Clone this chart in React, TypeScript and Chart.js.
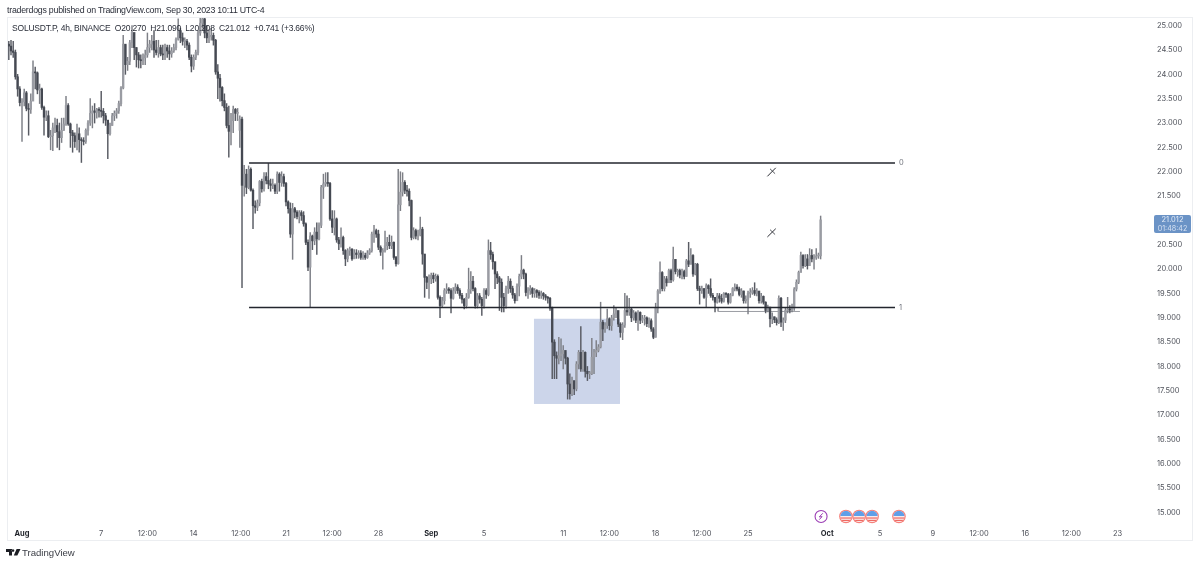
import React, { useEffect, useRef } from "react";
import { Chart, registerables } from "chart.js";

Chart.register(...registerables);

const firstIndex = -7;

const opens = [
  24.25,24.62,24.58,24.48,24.45,23.95,23.70,23.42,23.44,
  23.62,23.30,23.28,23.45,24.05,24.03,23.68,23.70,
  23.32,23.12,23.15,22.72,22.74,22.90,22.95,22.82,22.70,
  22.85,22.98,23.36,22.98,22.80,22.74,22.62,22.78,
  22.66,22.64,22.62,22.85,23.00,23.20,23.25,23.22,23.28,23.26,23.24,
  23.15,23.06,22.78,22.95,23.15,23.20,23.25,23.40,23.72,24.62,24.20,
  24.27,24.65,24.86,24.55,24.40,24.30,24.28,24.34,24.40,24.55,24.62,
  24.68,24.50,24.45,24.55,24.42,24.40,24.55,24.48,24.42,24.48,24.55,
  24.72,24.90,24.75,24.68,24.68,24.60,24.35,24.17,24.35,24.45,
  24.85,25.05,25.14,24.85,24.75,24.78,24.80,24.70,24.05,23.92,23.73,
  23.46,23.32,22.95,22.83,23.05,23.28,23.20,22.85,23.08,21.72,21.95,
  21.68,22.05,21.62,21.30,21.27,21.36,21.80,21.65,21.90,21.82,21.75,
  21.72,21.72,21.60,21.95,21.78,21.90,21.76,21.38,21.24,20.72,
  21.24,21.17,21.08,21.16,21.10,20.93,20.55,20.04,20.68,20.58,20.76,
  20.62,20.90,21.68,21.75,21.78,21.76,21.03,20.86,21.03,20.60,
  20.52,20.65,20.38,20.21,20.38,20.41,20.21,20.33,20.30,20.33,
  20.24,20.28,20.24,20.33,20.38,20.72,20.79,20.72,20.45,20.35,
  20.38,20.48,20.55,20.48,20.55,20.24,20.11,21.32,21.58,21.78,
  21.62,21.60,21.41,20.65,20.79,20.68,20.70,20.82,20.31,19.83,
  19.73,19.80,19.87,19.80,19.85,19.42,19.25,19.35,19.56,19.59,
  19.56,19.40,19.55,19.63,19.56,19.46,19.38,19.25,19.42,19.58,
  19.75,19.60,19.25,19.45,19.38,19.25,19.56,19.48,20.38,20.30,
  20.15,19.90,19.82,19.73,19.42,19.25,19.60,19.75,19.60,19.47,
  19.35,19.65,19.85,19.98,19.90,19.52,19.56,19.60,19.50,
  19.56,19.52,19.46,19.50,19.45,19.42,19.40,19.20,18.50,
  18.22,18.17,18.22,18.26,18.33,18.17,17.64,17.44,17.71,17.54,
  18.05,18.29,17.95,18.29,17.90,17.85,17.85,18.19,18.29,18.33,
  18.40,18.91,18.77,18.84,18.98,18.84,19.00,19.08,19.15,18.87,
  18.70,18.85,19.15,19.12,19.18,19.00,19.10,18.95,19.11,18.95,18.98,
  19.00,18.88,18.94,18.77,18.60,19.20,19.55,19.93,19.60,19.80,
  19.72,19.97,19.78,20.20,19.95,19.97,19.88,19.95,19.85,20.17,
  20.10,20.28,19.90,20.10,19.60,19.56,19.60,19.42,19.66,19.60,
  19.46,19.42,19.32,19.45,19.40,19.34,19.50,19.48,19.32,19.46,19.60,
  19.63,19.59,19.48,19.55,19.35,19.38,19.50,19.52,19.56,19.50,19.55,
  19.35,19.44,19.32,19.15,19.22,18.98,19.02,18.96,18.90,19.40,18.91,
  18.95,19.15,19.18,19.16,19.20,19.59,19.73,19.93,20.28,
  20.07,20.21,20.07,20.28,20.21,20.24,20.27,
  20.271,
];

const closes = [
  24.62,24.58,24.48,24.45,23.95,23.70,23.42,23.44,23.62,
  23.30,23.28,23.45,24.05,24.03,23.68,23.70,23.32,
  23.12,23.15,22.72,22.74,22.90,22.95,22.82,22.70,22.85,
  22.98,23.36,22.98,22.80,22.74,22.62,22.78,22.66,
  22.64,22.62,22.85,23.00,23.20,23.25,23.22,23.28,23.26,23.24,23.15,
  23.06,22.78,22.95,23.15,23.20,23.25,23.40,23.72,24.62,24.20,24.27,
  24.65,24.86,24.55,24.40,24.30,24.28,24.34,24.40,24.55,24.62,24.68,
  24.50,24.45,24.55,24.42,24.40,24.55,24.48,24.42,24.48,24.55,24.72,
  24.90,24.75,24.68,24.68,24.60,24.35,24.17,24.35,24.45,24.85,
  25.05,25.14,24.85,24.75,24.78,24.80,24.70,24.05,23.92,23.73,23.46,
  23.32,22.95,22.83,23.05,23.28,23.20,23.20,23.08,21.72,21.95,21.68,
  22.05,21.62,21.30,21.27,21.36,21.80,21.65,21.90,21.82,21.75,21.72,
  21.72,21.60,21.95,21.78,21.90,21.76,21.38,21.24,20.72,21.24,
  21.17,21.08,21.16,21.10,20.93,20.55,20.04,20.68,20.58,20.76,20.62,
  20.90,21.68,21.75,21.78,21.76,21.03,20.86,21.03,20.60,20.52,
  20.65,20.38,20.21,20.38,20.41,20.21,20.33,20.30,20.33,20.24,
  20.28,20.24,20.33,20.38,20.72,20.79,20.72,20.45,20.35,20.38,
  20.48,20.55,20.48,20.55,20.24,20.11,21.32,21.58,21.78,21.62,
  21.60,21.41,20.65,20.79,20.68,20.70,20.82,20.31,19.83,19.73,
  19.80,19.87,19.80,19.85,19.42,19.25,19.35,19.56,19.59,19.56,
  19.40,19.55,19.63,19.56,19.46,19.38,19.25,19.42,19.58,19.75,
  19.60,19.25,19.45,19.38,19.25,19.56,19.48,20.38,20.30,20.15,
  19.90,19.82,19.73,19.42,19.25,19.60,19.75,19.60,19.47,19.35,
  19.65,19.85,19.98,19.90,19.52,19.56,19.60,19.50,19.56,
  19.52,19.46,19.50,19.45,19.42,19.40,19.20,18.50,18.22,
  18.17,18.22,18.26,18.33,18.17,17.64,17.44,17.71,17.54,18.05,
  18.29,17.95,18.29,17.90,17.85,17.85,18.19,18.29,18.33,18.40,
  18.91,18.77,18.84,18.98,18.84,19.00,19.08,19.15,18.87,18.70,
  18.85,19.15,19.12,19.18,19.00,19.10,18.95,19.11,18.95,18.98,19.00,
  18.88,18.94,18.77,18.60,19.20,19.55,19.93,19.60,19.80,19.72,
  19.97,19.78,20.20,19.95,19.97,19.88,19.95,19.85,20.17,20.10,
  20.28,19.90,20.10,19.60,19.56,19.60,19.42,19.66,19.60,19.46,
  19.42,19.32,19.45,19.40,19.34,19.50,19.48,19.32,19.46,19.60,19.63,
  19.59,19.48,19.55,19.35,19.38,19.50,19.52,19.56,19.50,19.55,19.35,
  19.44,19.32,19.15,19.22,18.98,19.02,18.96,18.90,19.40,18.91,18.95,
  19.15,19.18,19.16,19.20,19.59,19.73,19.93,20.28,20.07,
  20.21,20.07,20.28,20.21,20.24,20.27,20.27,
  21.012,
];

const highs = [
  24.76,24.68,24.70,24.68,24.50,24.00,23.75,23.50,23.70,
  23.65,23.40,23.60,24.28,24.15,24.05,23.80,23.72,
  23.35,23.25,23.25,22.85,23.00,23.10,23.08,23.00,23.10,
  23.10,23.55,23.40,23.00,22.85,22.80,22.98,22.90,
  22.70,22.70,22.88,23.05,23.50,23.35,23.40,23.30,23.32,23.65,23.30,
  23.20,23.05,23.00,23.20,23.25,23.30,23.45,23.75,24.80,24.60,24.35,
  24.70,25.00,24.85,24.55,24.45,24.40,24.42,24.50,24.85,24.70,24.80,
  24.90,24.70,24.70,24.60,24.60,24.62,24.60,24.60,24.55,24.62,24.75,
  25.14,24.95,24.85,24.75,24.72,24.65,24.40,24.40,24.50,24.90,
  25.15,25.30,25.15,25.00,24.92,24.95,24.85,24.72,24.20,24.00,23.75,
  23.60,23.40,23.35,23.20,23.35,23.30,23.30,23.15,23.12,22.13,22.05,
  22.12,22.08,21.65,21.40,21.42,21.82,21.85,21.98,21.98,22.17,21.85,
  21.85,21.75,22.00,21.98,22.00,21.95,21.78,21.40,21.36,21.35,
  21.27,21.20,21.20,21.20,21.18,20.95,20.60,20.75,20.70,20.85,20.95,
  20.95,21.72,21.95,21.98,21.98,21.78,21.20,21.20,21.05,20.65,
  20.85,20.68,20.40,20.42,20.45,20.42,20.40,20.40,20.38,20.38,
  20.36,20.33,20.38,20.42,20.76,20.90,20.82,20.80,20.48,20.42,
  20.78,20.65,20.70,20.68,20.56,20.26,22.05,22.00,21.98,21.82,
  21.72,21.65,21.42,20.85,20.82,20.80,21.07,20.86,20.30,19.85,
  19.88,19.92,19.92,19.90,19.88,19.45,19.42,19.60,19.70,19.62,
  19.60,19.62,19.70,19.68,19.60,19.50,19.40,19.50,20.02,19.95,
  19.85,19.62,19.50,19.50,19.42,19.60,19.60,20.60,20.55,20.35,
  20.15,19.95,19.85,19.80,19.50,19.65,19.85,19.80,19.65,19.50,
  19.70,19.90,20.28,20.00,19.92,19.62,19.66,19.62,19.60,
  19.58,19.56,19.55,19.52,19.48,19.44,19.42,19.22,18.55,
  18.30,18.60,18.57,18.43,18.30,18.19,17.85,17.78,17.70,18.10,
  18.33,18.82,18.33,18.30,18.00,17.90,18.58,18.35,18.53,18.45,
  19.32,18.95,18.90,19.18,19.00,19.05,19.25,19.20,19.12,18.90,
  18.90,19.50,19.45,19.40,19.20,19.15,19.12,19.15,19.12,19.05,19.05,
  19.02,19.00,18.98,18.80,19.30,19.58,20.15,19.95,19.85,19.85,
  20.00,20.00,20.45,20.20,20.00,20.00,20.00,19.98,20.20,20.55,
  20.42,20.30,20.12,20.12,19.65,19.65,19.60,19.70,19.68,19.80,
  19.50,19.42,19.50,19.50,19.48,19.52,19.52,19.50,19.50,19.62,19.70,
  19.68,19.63,19.60,19.55,19.45,19.55,19.60,19.62,19.72,19.60,19.52,
  19.50,19.45,19.33,19.26,19.20,19.10,19.02,19.00,19.45,19.42,19.00,
  19.20,19.42,19.25,19.28,19.62,19.78,19.96,20.35,20.30,
  20.30,20.30,20.42,20.40,20.30,20.42,20.33,
  21.09,
];

const lows = [
  24.11,24.30,24.40,24.35,23.90,23.55,23.35,22.62,23.35,
  23.25,22.75,23.20,23.60,23.70,23.60,23.40,23.28,
  22.75,23.05,22.70,22.45,22.43,22.80,22.50,22.45,22.60,
  22.85,22.95,22.95,22.50,22.40,22.50,22.45,22.40,
  22.19,22.55,22.58,22.75,22.95,22.90,23.00,23.10,23.12,23.12,23.00,
  22.95,22.27,22.75,22.95,23.05,23.10,23.20,23.35,23.70,24.00,24.08,
  24.20,24.55,24.30,24.15,24.13,24.13,24.20,24.20,24.35,24.45,24.50,
  24.35,24.40,24.35,24.38,24.30,24.30,24.35,24.30,24.35,24.45,24.50,
  24.70,24.65,24.60,24.55,24.50,24.30,24.05,24.10,24.30,24.40,
  24.80,24.95,24.75,24.65,24.65,24.70,24.60,24.00,23.50,23.45,23.35,
  23.25,22.90,22.30,22.55,22.80,23.05,23.05,22.50,19.62,21.50,21.55,
  21.65,21.60,20.83,21.15,21.20,21.30,21.58,21.60,21.75,21.65,21.60,
  21.65,21.55,21.55,21.60,21.70,21.70,21.30,21.15,20.65,20.20,
  21.05,21.03,20.95,21.00,20.88,20.50,19.97,19.22,20.40,20.50,20.30,
  20.60,20.85,21.45,21.70,21.70,21.00,20.75,20.70,20.55,20.40,
  20.45,20.30,20.07,20.15,20.28,20.18,20.25,20.22,20.22,20.20,
  20.20,20.20,20.22,20.30,20.35,20.55,20.65,20.40,20.28,20.00,
  20.35,20.40,20.42,20.42,20.20,20.06,20.10,21.20,21.50,21.55,
  21.50,21.30,20.60,20.62,20.62,20.60,20.68,20.10,19.42,19.60,
  19.40,19.70,19.72,19.75,19.38,19.00,19.22,19.28,19.50,19.50,
  19.10,19.38,19.50,19.50,19.40,19.30,19.18,19.20,19.40,19.50,
  19.55,19.20,19.20,19.30,19.05,19.20,19.40,19.45,20.20,20.00,
  19.60,19.70,19.15,19.12,19.12,19.20,19.50,19.52,19.40,19.30,
  19.35,19.45,19.80,19.80,19.45,19.40,19.48,19.42,19.42,
  19.42,19.40,19.40,19.38,19.36,19.30,19.15,17.75,17.75,
  17.75,18.05,18.12,17.95,18.05,17.33,17.33,17.40,17.42,17.50,
  17.95,17.90,17.90,17.78,17.71,17.75,17.83,17.85,18.20,18.30,
  18.38,18.53,18.70,18.78,18.75,18.74,18.95,19.00,18.82,18.60,
  18.55,18.80,19.05,19.05,18.92,18.95,18.90,18.74,18.88,18.90,18.85,
  18.82,18.80,18.72,18.57,18.60,19.10,19.50,19.55,19.55,19.65,
  19.72,19.72,19.75,19.90,19.85,19.82,19.80,19.80,19.85,20.05,
  20.10,19.85,19.88,19.56,19.28,19.50,19.40,19.22,19.50,19.42,
  19.36,19.12,19.30,19.32,19.30,19.32,19.42,19.28,19.30,19.45,19.55,
  19.55,19.45,19.42,19.30,19.30,19.08,19.42,19.48,19.46,19.45,19.30,
  19.30,19.28,19.10,19.12,18.81,18.88,18.90,18.85,18.88,18.82,18.74,
  18.90,19.10,19.10,19.12,19.15,19.55,19.70,20.05,20.02,
  20.05,20.00,20.20,20.15,20.00,20.20,20.22,
  20.208,
];

const timeTickIndex = [0, 36, 57, 78, 99.5, 120, 141, 162, 186, 210, 246, 267, 288, 309, 330, 366, 390, 414, 435, 456, 477, 498];
const timeTickLabels = ["Aug", "7", "12:00", "14", "12:00", "21", "12:00", "28", "Sep", "5", "11", "12:00", "18", "12:00", "25", "Oct", "5", "9", "12:00", "16", "12:00", "23"];
const monthLabels = ["Aug", "Sep", "Oct"];

const levelZero = [{ x: 103.2, y: 22.18 }, { x: 396.8, y: 22.18 }];
const levelOne = [{ x: 103.2, y: 19.21 }, { x: 396.8, y: 19.21 }];
const thinLevel = [{ x: 316.4, y: 19.21 }, { x: 316.4, y: 19.13 }, { x: 353.6, y: 19.13 }];
const crossMarksLong = [
  { x: 338.8, y: 21.905 }, { x: 342.6, y: 22.08 }, { x: 340, y: null },
  { x: 338.8, y: 20.66 }, { x: 342.6, y: 20.83 },
];
const crossMarksShort = [
  { x: 340.0, y: 22.06 }, { x: 342.3, y: 21.96 }, { x: 341, y: null },
  { x: 340.0, y: 20.81 }, { x: 342.3, y: 20.71 },
];
const zoneBox = { xMin: 232.7, xMax: 271.8, yMin: 17.23, yMax: 18.98 };
const lightningEvents = [363.2];
const flagEvents = [374.5, 380.5, 386.4, 398.6];
const eventPrice = 14.92;

const UP_BODY = "#9a9ca3";
const DOWN_BODY = "#454952";
const UP_WICK = "#7d7f86";
const DOWN_WICK = "#585b63";
const FONT = "'Liberation Sans', Arial, sans-serif";
const TICK_FONT = "Inter, 'Liberation Sans', sans-serif";

const isMonthTick = (c: any) =>
  !!c.tick && monthLabels.includes(timeTickLabels[timeTickIndex.indexOf(c.tick.value)]);

const overlayPlugin = {
  id: "overlay",
  beforeDatasetsDraw(chart: any) {
    const { ctx, scales } = chart;
    const { x, y } = scales;
    ctx.save();
    ctx.fillStyle = "#ccd5ea";
    const l = x.getPixelForValue(zoneBox.xMin);
    const r = x.getPixelForValue(zoneBox.xMax);
    const t = y.getPixelForValue(zoneBox.yMax);
    const b = y.getPixelForValue(zoneBox.yMin);
    ctx.fillRect(l, t, r - l, b - t);
    ctx.restore();
  },
  afterDraw(chart: any) {
    const { ctx, scales } = chart;
    const { x, y } = scales;
    ctx.save();
    // frame
    ctx.strokeStyle = "#eceef1";
    ctx.lineWidth = 1;
    ctx.strokeRect(7.5, 17.5, 1185, 523);
    // level labels
    ctx.fillStyle = "#70737c";
    ctx.font = `7.5px ${TICK_FONT}`;
    ctx.textAlign = "left";
    ctx.textBaseline = "middle";
    const lx = x.getPixelForValue(levelZero[1].x) + 4;
    ctx.fillText("0", lx, y.getPixelForValue(levelZero[0].y));
    ctx.fillText("1", lx, y.getPixelForValue(levelOne[0].y));
    // events
    const cy = y.getPixelForValue(eventPrice);
    lightningEvents.forEach((v) => {
      const cx = x.getPixelForValue(v);
      ctx.beginPath();
      ctx.arc(cx, cy, 6, 0, Math.PI * 2);
      ctx.fillStyle = "#ffffff";
      ctx.fill();
      ctx.strokeStyle = "#9c3fb5";
      ctx.lineWidth = 1.1;
      ctx.stroke();
      ctx.beginPath();
      ctx.moveTo(cx + 1.8, cy - 3.2);
      ctx.lineTo(cx - 1.8, cy + 0.5);
      ctx.lineTo(cx + 1.0, cy + 0.2);
      ctx.lineTo(cx - 1.8, cy + 3.2);
      ctx.strokeStyle = "#9c3fb5";
      ctx.lineWidth = 1;
      ctx.stroke();
    });
    flagEvents.forEach((v) => {
      const cx = x.getPixelForValue(v);
      ctx.save();
      ctx.beginPath();
      ctx.arc(cx, cy, 6.8, 0, Math.PI * 2);
      ctx.fillStyle = "#f6807a";
      ctx.fill();
      ctx.beginPath();
      ctx.arc(cx, cy, 5.6, 0, Math.PI * 2);
      ctx.fillStyle = "#fbeeee";
      ctx.fill();
      ctx.clip();
      ctx.fillStyle = "#5f9fe8";
      ctx.fillRect(cx - 6, cy - 6, 12, 5.6);
      ctx.fillStyle = "#ef6a63";
      ctx.fillRect(cx - 6, cy + 1, 12, 1.2);
      ctx.fillRect(cx - 6, cy + 3.4, 12, 1.2);
      ctx.restore();
    });
    ctx.restore();
  },
};

export default function App() {
  const ref = useRef<HTMLCanvasElement>(null);

  useEffect(() => {
    const xs = closes.map((_, i) => firstIndex + i);
    const isUp = closes.map((c, i) => c >= opens[i]);
    const chart = new Chart(ref.current as HTMLCanvasElement, {
      type: "bar",
      data: {
        datasets: [
          {
            type: "line",
            label: "0",
            data: levelZero,
            borderColor: "#23262e",
            borderWidth: 1.5,
            pointRadius: 0,
            order: 0,
          },
          {
            type: "line",
            label: "1",
            data: levelOne,
            borderColor: "#23262e",
            borderWidth: 1.5,
            pointRadius: 0,
            order: 0,
          },
          {
            type: "line",
            label: "thin",
            data: thinLevel,
            borderColor: "#9a9ca2",
            borderWidth: 1,
            pointRadius: 0,
            order: 3,
          },
          {
            type: "line",
            label: "crossLong",
            data: crossMarksLong,
            borderColor: "#2a2c33",
            borderWidth: 1,
            pointRadius: 0,
            spanGaps: false,
            order: 0,
          },
          {
            type: "line",
            label: "crossShort",
            data: crossMarksShort,
            borderColor: "#2a2c33",
            borderWidth: 0.8,
            pointRadius: 0,
            spanGaps: false,
            order: 0,
          },
          {
            label: "bodies",
            data: xs.map((v, i) => ({ x: v, y: [opens[i], closes[i]] })),
            backgroundColor: isUp.map((u) => (u ? UP_BODY : DOWN_BODY)),
            barThickness: 1.7,
            grouped: false,
            minBarLength: 1,
            order: 1,
          },
          {
            label: "wicks",
            data: xs.map((v, i) => ({ x: v, y: [lows[i], highs[i]] })),
            backgroundColor: isUp.map((u) => (u ? UP_WICK : DOWN_WICK)),
            barThickness: 0.8,
            grouped: false,
            order: 2,
          },
        ] as any,
      },
      options: {
        responsive: false,
        animation: false,
        events: [],
        devicePixelRatio: 1,
        layout: { padding: { left: 7, right: 7, top: 17, bottom: 23 } },
        plugins: { legend: { display: false }, tooltip: { enabled: false }, title: { display: false } },
        scales: {
          x: {
            type: "linear",
            offset: false,
            min: -6.82,
            max: 511.8,
            grid: { display: false, drawTicks: false, offset: false },
            border: { display: false },
            afterFit: (s: any) => { s.height = 16; },
            afterBuildTicks: (s: any) => { s.ticks = timeTickIndex.map((value) => ({ value })); },
            ticks: {
              autoSkip: false,
              maxRotation: 0,
              padding: 4,
              color: (c: any) => (isMonthTick(c) ? "#1f2229" : "#4f525b"),
              font: (c: any) => ({
                family: TICK_FONT,
                size: 7.5,
                weight: isMonthTick(c) ? "bold" : "normal",
              }),
              callback: (v: any) => timeTickLabels[timeTickIndex.indexOf(v)],
            },
          },
          y: {
            position: "right",
            type: "linear",
            min: 14.744,
            max: 25.178,
            grid: { display: false, drawTicks: false },
            border: { display: false },
            afterFit: (s: any) => { s.width = 45; },
            ticks: {
              stepSize: 0.5,
              includeBounds: false,
              padding: 9,
              color: "#4f525b",
              font: { family: TICK_FONT, size: 7.5 },
              callback: (v: any) => Number(v).toFixed(3),
            },
          },
        },
      } as any,
      plugins: [overlayPlugin as any],
    });
    return () => chart.destroy();
  }, []);

  const textBase: React.CSSProperties = {
    position: "absolute",
    whiteSpace: "pre",
    fontFamily: FONT,
    color: "#2a2e39",
    lineHeight: 1,
  };

  return (
    <div style={{ position: "fixed", left: 0, top: 0, width: 1200, height: 564, background: "#fff", overflow: "hidden" }}>
      <canvas ref={ref} width={1200} height={564} style={{ position: "absolute", left: 0, top: 0, display: "block" }} />
      <div style={{ ...textBase, left: 7, top: 6, fontSize: 8.8, letterSpacing: -0.24 }}>
        traderdogs published on TradingView.com, Sep 30, 2023 10:11 UTC-4
      </div>
      <div style={{ ...textBase, left: 12, top: 24, fontSize: 8.5, letterSpacing: -0.2 }}>
        {"SOLUSDT.P, 4h, BINANCE  O20.270  H21.090  L20.208  C21.012  +0.741 (+3.66%)"}
      </div>
      <div style={{ position: "absolute", left: 1154, top: 215, width: 37, height: 18, background: "#6b93c6", borderRadius: 2 }} />
      <div style={{ ...textBase, fontFamily: TICK_FONT, left: 1154, top: 216, width: 37, textAlign: "center", color: "#e4ecf7", fontSize: 7.5 }}>21.012</div>
      <div style={{ ...textBase, fontFamily: TICK_FONT, left: 1154, top: 225, width: 37, textAlign: "center", color: "#d5e1f2", fontSize: 7.2 }}>01:48:42</div>
      <svg style={{ position: "absolute", left: 6, top: 548 }} width="15" height="9" viewBox="0 0 15 9">
        <path d="M0 1h6v6.5H3V4H0z M7 1.2a1.3 1.3 0 1 0 .01 0z M10.6 1H14.5L11.3 7.5H7.8z" fill="#1c1e24" />
      </svg>
      <div style={{ ...textBase, left: 22, top: 548, fontSize: 9.6, color: "#3a3d45" }}>TradingView</div>
    </div>
  );
}
